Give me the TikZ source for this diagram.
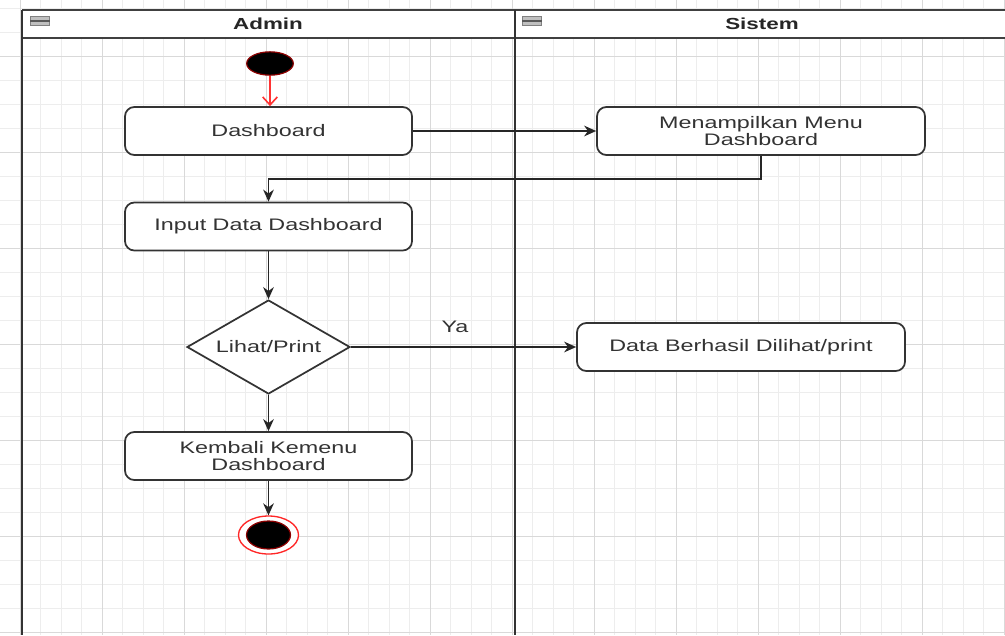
\documentclass[tikz,border=0pt]{standalone}
\usepackage{fontspec}
\setmainfont{Liberation Sans}
\newfontfamily\widefont[FakeStretch=1.4]{Liberation Sans}
\usetikzlibrary{shapes.geometric,arrows.meta}
\begin{document}
\begin{tikzpicture}[x=0.75pt,y=-0.75pt,
  gridminor/.style={draw=black!7, line width=0.4pt},
  gridmajor/.style={draw=black!15, line width=0.5pt},
  lane/.style={draw=black!80, line width=2.1pt},
  hdr/.style={draw=black!75, line width=1.1pt},
  hdrtext/.style={font=\widefont\bfseries\fontsize{12}{13}\selectfont, text=black!85},
  icon/.style={draw=black!50, fill=black!25, line width=0.6pt, minimum width=14pt, minimum height=6.5pt, inner sep=0pt},
  txt/.style={font=\widefont\fontsize{12.5}{12.75}\selectfont, text=black!80},
  act/.style={txt, draw=black!80, line width=1.3pt, rounded corners=7pt, fill=white, minimum width=215.25pt, minimum height=36pt, inner sep=0pt, align=center},
  actwide/.style={act, minimum width=246pt},
  decision/.style={txt, shape=diamond, shape aspect=1.73, draw=black!80, line width=1.3pt, fill=white, minimum width=122.25pt, minimum height=70.5pt, inner sep=0pt},
  startnode/.style={shape=ellipse, fill=black, draw=red!55!black, line width=0.9pt, minimum width=35pt, minimum height=17.5pt, inner sep=0pt},
  endouter/.style={shape=ellipse, fill=white, draw=red!85, line width=1pt, minimum width=45pt, minimum height=28.5pt, inner sep=0pt},
  endinner/.style={shape=ellipse, fill=black, draw=red!55!black, line width=0.9pt, minimum width=33pt, minimum height=21pt, inner sep=0pt},
  flow/.style={draw=black!85, line width=1.3pt, -{Stealth[length=9pt,width=8pt]}},
  redflow/.style={draw=red!80, line width=1.2pt, -{Straight Barb[length=6pt,width=11pt]}}
]
\useasboundingbox (0,0) rectangle (1005,635);
\fill[white] (0,0) rectangle (1005,635);
% grid
\foreach \i in {0,...,49} { \draw[gridminor] ({-0.5+20.5*\i},0) -- ({-0.5+20.5*\i},635); }
\foreach \i in {0,...,26} { \draw[gridminor] (0,{8+24*\i}) -- (1005,{8+24*\i}); }
\foreach \i in {0,...,12} { \draw[gridmajor] ({20+82*\i},0) -- ({20+82*\i},635); }
\foreach \i in {0,...,6} { \draw[gridmajor] (0,{56+96*\i}) -- (1005,{56+96*\i}); }
% swimlanes
\fill[white] (22,10) rectangle (1005,38);
\draw[hdr] (22,10) -- (1005,10);
\draw[hdr] (22,38) -- (1005,38);
\draw[lane] (22,10) -- (22,635);
\draw[lane] (515,10) -- (515,635);
\node[hdrtext] (hAdmin) at (268,24) {Admin};
\node[hdrtext] (hSistem) at (762,24) {Sistem};
\node[icon] (ic1) at (40,21) {};
\draw[black!65, line width=0.9pt] (ic1.west) -- (ic1.east);
\node[icon] (ic2) at (532,21) {};
\draw[black!65, line width=0.9pt] (ic2.west) -- (ic2.east);
% nodes
\node[startnode] (start) at (270,63.5) {};
\node[act] (dash) at (268.5,131) {Dashboard};
\node[actwide] (menu) at (761,131) {Menampilkan Menu\\Dashboard};
\node[act] (input) at (268.5,226.5) {Input Data Dashboard};
\node[decision] (dec) at (268.5,347) {Lihat/Print};
\node[actwide] (ok) at (741,347) {Data Berhasil Dilihat/print};
\node[act] (back) at (268.5,456) {Kembali Kemenu\\Dashboard};
\node[endouter] (stop) at (268.5,535) {};
\node[endinner] (stopin) at (268.5,535) {};
\node[txt] (ya) at (455,327) {Ya};
% connectors
\draw[redflow] (start.south) -- (dash.north -| start.south);
\draw[flow] (dash.east) -- (menu.west);
\draw[flow] (menu.south) -- ++(0,23) -| (input.north);
\draw[flow] (input.south) -- (dec.north);
\draw[flow] (dec.east) -- (ok.west);
\draw[flow] (dec.south) -- (back.north);
\draw[flow] (back.south) -- (stop.north);
\end{tikzpicture}
\end{document}
